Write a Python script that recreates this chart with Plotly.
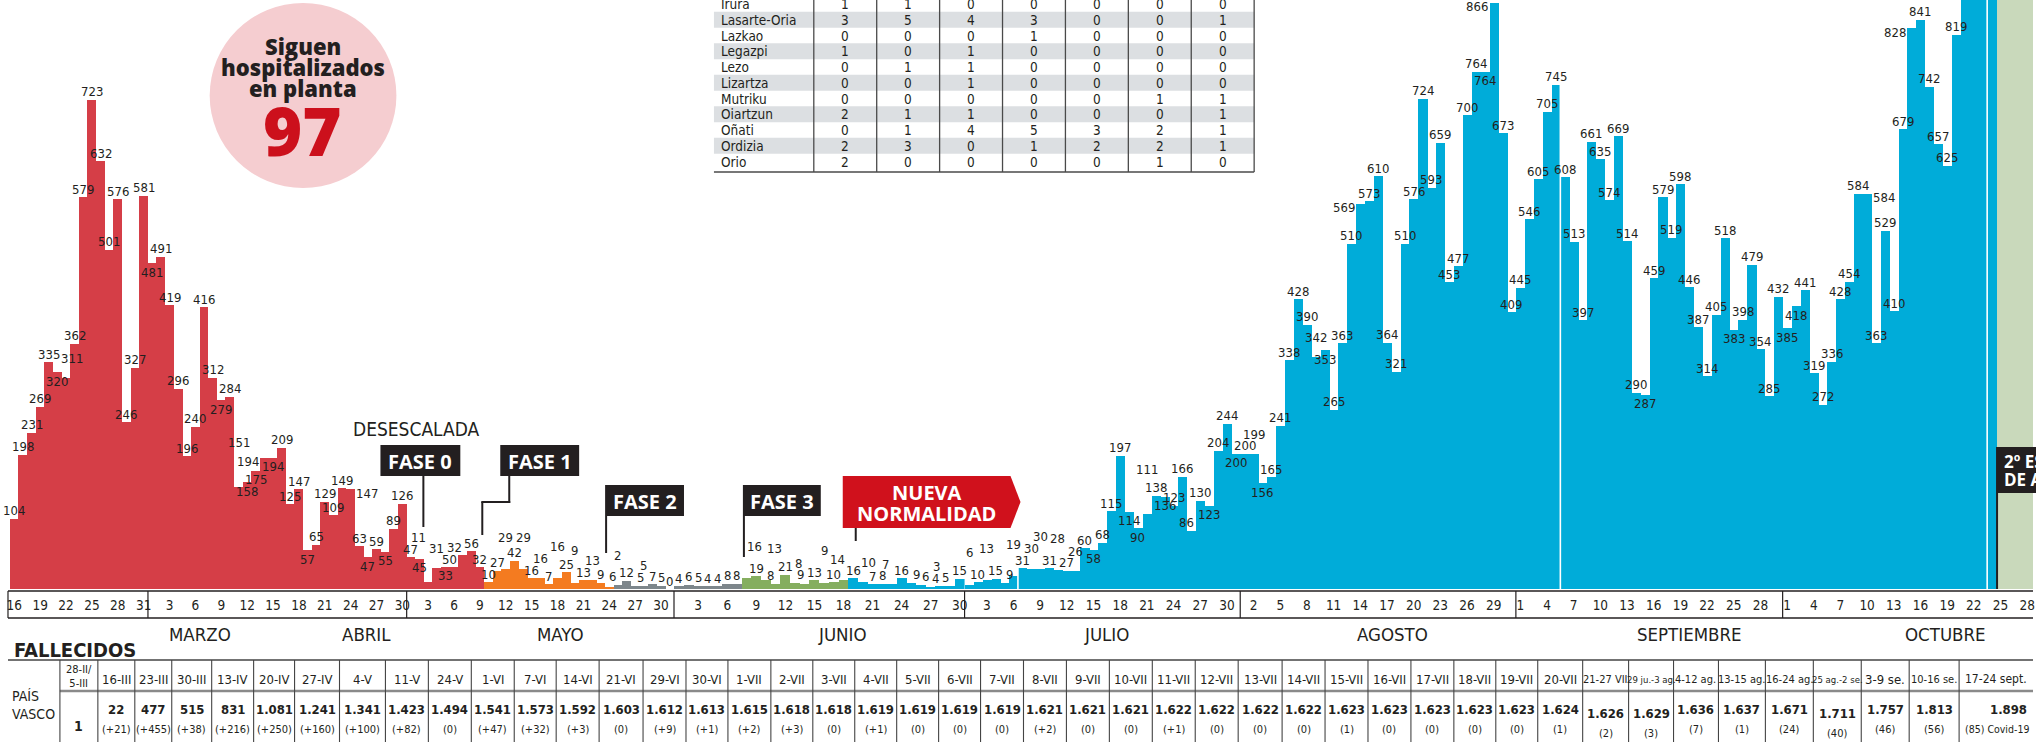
import plotly.graph_objects as go
import pandas as pd

# ============================ DATA ============================
inicio = "2020-03-16"
marzo = [104, 198, 231, 269, 335, 320, 311, 362, 579, 723, 632, 501, 576, 246, 327, 581]
abril = [481, 491, 419, 296, 196, 240, 416, 312, 279, 284, 151, 158, 175, 194, 194, 209, 125, 147, 57, 65,
         129, 109, 149, 147, 63, 47, 59, 55, 89, 126]
mayo = [47, 45, 11, 31, 33, 32, 50, 56, 32, 10, 27, 29, 42, 29, 16, 16, 7, 16, 25, 9,
        13, 13, 9, 2, 6, 12, 5, 5, 7, 5, 0]
junio = [4, 6, 5, 4, 4, 8, 8, 16, 19, 13, 8, 21, 9, 8, 13, 9, 10, 14, 16, 10,
         7, 8, 7, 16, 9, 6, 3, 4, 5, 15]
julio = [6, 10, 13, 15, 9, 19, 31, 30, 30, 31, 28, 27, 26, 60, 58, 68, 115, 197, 114, 90,
         111, 138, 136, 123, 166, 86, 130, 123, 204, 244, 200]
agosto = [200, 199, 156, 165, 241, 338, 428, 390, 342, 353, 265, 363, 510, 569, 573, 610, 364, 321, 510, 576,
          724, 593, 659, 453, 477, 700, 764, 764, 866, 673, 409]
septiembre = [445, 546, 605, 705, 745, 608, 513, 397, 661, 635, 574, 669, 514, 290, 287, 459, 579, 519, 598, 446,
              387, 314, 405, 518, 383, 398, 479, 354, 285, 432]
octubre = [385, 418, 441, 319, 272, 336, 428, 454, 584, 584, 363, 529, 410, 679, 828, 841, 742, 657, 625, 819,
           955, 1030, 1010, 905]

fases_inicio = ["2020-03-16", "2020-05-10", "2020-05-25", "2020-06-08", "2020-06-19"]
fases_color = ["#d53e47", "#f47b20", "#7d868b", "#85ae5f", "#00acd9"]
alarma_inicio = "2020-10-25"
separadores = ["2020-07-06", "2020-09-05", "2020-10-23"]

tick_marzo = [16, 19, 22, 25, 28, 31]
tick_abril = [3, 6, 9, 12, 15, 18, 21, 24, 27, 30]
tick_mayo = [3, 6, 9, 12, 15, 18, 21, 24, 27, 30]
tick_junio = [3, 6, 9, 12, 15, 18, 21, 24, 27, 30]
tick_julio = [3, 6, 9, 12, 15, 18, 21, 24, 27, 30]
tick_agosto = [2, 5, 8, 11, 14, 17, 20, 23, 26, 29]
tick_septiembre = [1, 4, 7, 10, 13, 16, 19, 22, 25, 28]
tick_octubre = [1, 4, 7, 10, 13, 16, 19, 22, 25, 28]
meses = ["MARZO", "ABRIL", "MAYO", "JUNIO", "JULIO", "AGOSTO", "SEPTIEMBRE", "OCTUBRE"]

municipios = ["Irura", "Lasarte-Oria", "Lazkao", "Legazpi", "Lezo", "Lizartza", "Mutriku",
              "Oiartzun", "Oñati", "Ordizia", "Orio"]
municipios_valores = [[1, 1, 0, 0, 0, 0, 0], [3, 5, 4, 3, 0, 0, 1], [0, 0, 0, 1, 0, 0, 0],
                      [1, 0, 1, 0, 0, 0, 0], [0, 1, 1, 0, 0, 0, 0], [0, 0, 1, 0, 0, 0, 0],
                      [0, 0, 0, 0, 0, 1, 1], [2, 1, 1, 0, 0, 0, 1], [0, 1, 4, 5, 3, 2, 1],
                      [2, 3, 0, 1, 2, 2, 1], [2, 0, 0, 0, 0, 1, 0]]

fall_primero = ["28-II/<br>5-III", "1"]
fall_periodo = ["16-III", "23-III", "30-III", "13-IV", "20-IV", "27-IV", "4-V", "11-V", "24-V", "1-VI",
                "7-VI", "14-VI", "21-VI", "29-VI", "30-VI", "1-VII", "2-VII", "3-VII", "4-VII", "5-VII",
                "6-VII", "7-VII", "8-VII", "9-VII", "10-VII", "11-VII", "12-VII", "13-VII", "14-VII", "15-VII",
                "16-VII", "17-VII", "18-VII", "19-VII", "20-VII", "21-27 VII", "29 ju.-3 ag.", "4-12 ag.",
                "13-15 ag.", "16-24 ag.", "25 ag.-2 se.", "3-9 se.", "10-16 se.", "17-24 sept."]
fall_total = ["22", "477", "515", "831", "1.081", "1.241", "1.341", "1.423", "1.494", "1.541",
              "1.573", "1.592", "1.603", "1.612", "1.613", "1.615", "1.618", "1.618", "1.619", "1.619",
              "1.619", "1.619", "1.621", "1.621", "1.621", "1.622", "1.622", "1.622", "1.622", "1.623",
              "1.623", "1.623", "1.623", "1.623", "1.624", "1.626", "1.629", "1.636", "1.637", "1.671",
              "1.711", "1.757", "1.813", "1.898"]
fall_dif = ["(+21)", "(+455)", "(+38)", "(+216)", "(+250)", "(+160)", "(+100)", "(+82)", "(0)", "(+47)",
            "(+32)", "(+3)", "(0)", "(+9)", "(+1)", "(+2)", "(+3)", "(0)", "(+1)", "(0)",
            "(0)", "(0)", "(+2)", "(0)", "(0)", "(+1)", "(0)", "(0)", "(0)", "(1)",
            "(0)", "(0)", "(0)", "(0)", "(1)", "(2)", "(3)", "(7)", "(1)", "(24)",
            "(40)", "(46)", "(56)", "(85) Covid-19"]

# ============================ LAYOUT / STYLE ============================
W, H = 2036, 742
BASE = 589            # pixel row of bar baseline
YMAX = 870
INK = "#231f20"
NARROW = "DejaVu Sans Condensed, Liberation Sans Narrow, sans-serif"
BOLDF = "Open Sans, Lato, sans-serif"

# the printed time axis is drawn in three stretches with slightly different day widths
seg_fechas = [("2020-03-16", "2020-05-31"), ("2020-06-01", "2020-06-30"), ("2020-07-01", "2020-10-24")]
seg_px = [(10, 675), (675, 966), (966, 1999)]
seg_ax = ["x", "x2", "x3"]


def PX(p):
    return p / W


def PY(p):
    return 1 - p / H


DAY = pd.Timedelta(days=1)
segs = []
for (a, b), (p0, p1) in zip(seg_fechas, seg_px):
    a, b = pd.Timestamp(a), pd.Timestamp(b)
    n = (b - a).days + 1
    segs.append((a, b, p0, p1, (p1 - p0) / n))


def seg_of(t):
    t = pd.Timestamp(t)
    for k, (a, b, p0, p1, s) in enumerate(segs):
        if t < b + DAY / 2:
            return k
    return len(segs) - 1


def pix(t):
    t = pd.Timestamp(t)
    a, b, p0, p1, s = segs[seg_of(t)]
    return p0 + ((t - a) / DAY + 0.5) * s


start = pd.Timestamp(inicio)
valores = marzo + abril + mayo + junio + julio + agosto + septiembre + octubre
fechas = pd.date_range(start, periods=len(valores), freq="D")

colores = []
for f in fechas:
    c = fases_color[0]
    for fi, col in zip(fases_inicio, fases_color):
        if f >= pd.Timestamp(fi):
            c = col
    colores.append(c)

tick_vals, tick_text = [], []
for mes, lst in zip(range(3, 11), [tick_marzo, tick_abril, tick_mayo, tick_junio, tick_julio,
                                   tick_agosto, tick_septiembre, tick_octubre]):
    for d in lst:
        tick_vals.append(pd.Timestamp(2020, mes, d))
        tick_text.append(str(d))

fig = go.Figure()
layout_axes = {}
for k, (a, b, p0, p1, s) in enumerate(segs):
    idx = [i for i, f in enumerate(fechas) if seg_of(f) == k]
    fig.add_trace(go.Bar(x=[fechas[i] for i in idx], y=[valores[i] for i in idx],
                         width=86400000 * 1.03, xaxis=seg_ax[k], yaxis="y",
                         marker=dict(color=[colores[i] for i in idx], line=dict(width=0)),
                         hoverinfo="skip", showlegend=False))
    d0 = 0 if k == 0 else p0
    d1 = W if k == len(segs) - 1 else p1
    r0 = a - DAY / 2 - DAY * ((p0 - d0) / s)
    r1 = a - DAY / 2 + DAY * ((d1 - p0) / s)
    tv = [t for t in tick_vals if r0 <= t <= r1]
    tt = [tick_text[j] for j, t in enumerate(tick_vals) if r0 <= t <= r1]
    name = "xaxis" if k == 0 else "xaxis%d" % (k + 1)
    layout_axes[name] = dict(type="date", range=[r0, r1], domain=[d0 / W, d1 / W], anchor="y",
                             showgrid=False, zeroline=False, showline=False, ticks="",
                             tickmode="array", tickvals=tv, ticktext=tt, tickangle=0,
                             tickfont=dict(family=NARROW, size=13.5, color=INK), ticklabelstandoff=6,
                             ticklabeloverflow="allow", fixedrange=True)

shapes, annots = [], []


def hline(y, x0, x1, color=INK, width=1.5):
    shapes.append(dict(type="line", xref="paper", yref="paper", x0=PX(x0), x1=PX(x1), y0=PY(y), y1=PY(y),
                       line=dict(color=color, width=width)))


def vline(x, y0, y1, color=INK, width=1.5):
    shapes.append(dict(type="line", xref="paper", yref="paper", x0=PX(x), x1=PX(x), y0=PY(y0), y1=PY(y1),
                       line=dict(color=color, width=width)))


def rect(x0, y0, x1, y1, color, layer="above"):
    shapes.append(dict(type="rect", xref="paper", yref="paper", x0=PX(x0), x1=PX(x1), y0=PY(y1), y1=PY(y0),
                       fillcolor=color, line=dict(width=0), layer=layer))


def text(x, y, t, size, color=INK, family=NARROW, weight="normal", xanchor="center"):
    annots.append(dict(xref="paper", yref="paper", x=PX(x), y=PY(y), text=t, showarrow=False,
                       xanchor=xanchor, yanchor="middle",
                       font=dict(family=family, size=size, color=color, weight=weight)))


# green background (2nd state of alarm)
shapes.append(dict(type="rect", xref="x3", yref="y", x0=pd.Timestamp(alarma_inicio) - DAY / 2,
                   x1=pd.Timestamp("2020-11-15"), y0=0, y1=YMAX, fillcolor="#c9d9bb",
                   line=dict(width=0), layer="below"))

for s_ in separadores:
    t = pd.Timestamp(s_)
    i = (t - start).days
    top = min(max(valores[i], valores[i + 1]), YMAX)
    shapes.append(dict(type="line", xref=seg_ax[seg_of(t)], yref="y", x0=t + DAY / 2,
                       x1=t + DAY / 2, y0=0, y1=top, line=dict(color="white", width=1.6)))

# ---------- axis row ----------
hline(591, 8, W, INK, 1.6)
hline(618, 8, W, INK, 1.6)
vline(8, 591, 618, INK, 1.2)
for mb in ["2020-03-31", "2020-04-30", "2020-05-31", "2020-06-30", "2020-07-31", "2020-08-31", "2020-09-30"]:
    vline(pix(pd.Timestamp(mb) + DAY / 2 - pd.Timedelta(minutes=1)), 591, 618, INK, 1.2)

mes_x = [200, 367, 561, 844, 1108, 1395, 1692, 1948]
for m, x in zip(meses, mes_x):
    text(x, 634, m, 18.5)

# ---------- pink circle ----------
shapes.append(dict(type="circle", xref="paper", yref="paper", x0=PX(210), x1=PX(397), y0=PY(188), y1=PY(3),
                   fillcolor="#f5cdd0", line=dict(width=0), layer="above"))
text(303, 46, "Siguen", 22, INK, BOLDF, 800)
text(303, 67, "hospitalizados", 22, INK, BOLDF, 800)
text(303, 88, "en planta", 22, INK, BOLDF, 800)
text(303, 130, "97", 67, "#cc101c", BOLDF, 800)

# ---------- phases ----------
text(417, 429, "DESESCALADA", 19)
fase_boxes = [("FASE 0", 381, 445, 461, 476), ("FASE 1", 501, 445, 580, 476),
              ("FASE 2", 606, 485, 685, 516), ("FASE 3", 744, 485, 822, 516)]
for t, x0, y0, x1, y1 in fase_boxes:
    rect(x0, y0, x1, y1, INK)
    text((x0 + x1) / 2, (y0 + y1) / 2 + 1, t, 20, "white", BOLDF, "bold")
vline(424, 476, 527, INK, 2)
vline(510, 476, 503, INK, 2)
hline(502, 482, 511, INK, 2)
vline(483, 502, 535, INK, 2)
vline(607, 516, 553, INK, 2)
vline(745, 516, 557, INK, 2)
vline(857, 528, 541, INK, 2)

path = "M {} {} L {} {} L {} {} L {} {} L {} {} Z".format(
    PX(844), PY(476), PX(1012), PY(476), PX(1022), PY(502), PX(1012), PY(528), PX(844), PY(528))
shapes.append(dict(type="path", xref="paper", yref="paper", path=path, fillcolor="#d0111c",
                   line=dict(width=0), layer="above"))
text(928, 492, "NUEVA", 20, "white", BOLDF, "bold")
text(928, 513, "NORMALIDAD", 20, "white", BOLDF, "bold")

rect(1999, 447, 2040, 493, INK)
vline(2000, 493, 589, INK, 2)
text(2005, 461, "2º ESTADO", 17, "white", BOLDF, "bold", "left")
text(2005, 480, "DE ALARMA", 17, "white", BOLDF, "bold", "left")

# ---------- top table (municipios) ----------
T_L, T_R = 715, 1256
col_lines = [815, 878, 941, 1004, 1067, 1130, 1193, 1256]
row_c = [4 + 15.75 * i for i in range(len(municipios))]
for i, yc in enumerate(row_c):
    if i % 2 == 1:
        rect(T_L, yc - 7.9, T_R, yc + 7.9, "#dcdfe2", "below")
for x in col_lines:
    vline(x, 0, 172, "#4a4a4a", 1.3)
hline(172, T_L, T_R, "#4a4a4a", 1.6)
for name, vals, yc in zip(municipios, municipios_valores, row_c):
    text(720, yc, name, 13.5, INK, NARROW, "normal", "left")
    for k, v in enumerate(vals):
        text((col_lines[k] + col_lines[k + 1]) / 2, yc, str(v), 13.5)

# ---------- fallecidos table ----------
text(12, 650, "FALLECIDOS", 20, INK, NARROW, "bold", "left")
hline(660, 8, W, "#444444", 1.6)
hline(691, 60, W, "#8a8a8a", 2.5)
text(10, 696, "PAÍS", 14, INK, NARROW, "normal", "left")
text(10, 714, "VASCO", 14, INK, NARROW, "normal", "left")
bounds = [60, 98, 135, 172, 212, 254, 295, 340, 386, 429, 472, 515, 557, 600, 644, 687, 729, 772, 814, 856,
          898, 940, 982, 1025, 1068, 1111, 1154, 1197, 1240, 1284, 1327, 1370, 1413, 1456, 1498, 1540, 1585,
          1631, 1676, 1721, 1768, 1816, 1864, 1912, 1962, 2060]
for b in bounds[:-1]:
    vline(b, 660, 742, "#444444", 1.1)
c0 = (bounds[0] + bounds[1]) / 2
text(c0, 676, fall_primero[0], 11)
text(c0, 726, fall_primero[1], 14, INK, NARROW, "bold")
low_cols = {"21-27 VII", "29 ju.-3 ag.", "25 ag.-2 se."}
for k, (p, tot, dif) in enumerate(zip(fall_periodo, fall_total, fall_dif)):
    cx = (bounds[k + 1] + bounds[k + 2]) / 2
    off = 4 if p in low_cols else 0
    fs = 13 if len(p) <= 7 else (11 if len(p) <= 9 else 9.5)
    if k == len(fall_periodo) - 1:
        text(1966, 679, p, 12, INK, NARROW, "normal", "left")
        text(2011, 709, tot, 13, INK, NARROW, "bold")
        text(1966, 729, dif, 10.5, INK, NARROW, "normal", "left")
        continue
    text(cx, 679, p, fs)
    text(cx, 709 + off, tot, 13, INK, NARROW, "bold")
    text(cx, 729 + off, dif, 11)

# ---------- bar value labels (greedy placement) ----------
def py_val(v):
    return BASE - min(v, YMAX) * BASE / YMAX


bar_px = [pix(f) for f in fechas]
bar_w = [segs[seg_of(f)][4] for f in fechas]

placed = [(210, 0, 397, 188), (715, 0, 1256, 174), (354, 420, 480, 438),
          (381, 445, 461, 476), (501, 445, 580, 476), (606, 485, 685, 516), (744, 485, 822, 516),
          (844, 476, 1022, 528), (422, 476, 426, 527), (508, 476, 512, 504), (481, 500, 512, 504),
          (481, 502, 485, 535), (605, 516, 609, 553), (743, 516, 747, 557), (855, 528, 859, 541)]


def hits(b):
    for p in placed:
        if b[0] < p[2] and b[2] > p[0] and b[1] < p[3] and b[3] > p[1]:
            return True
    return False


def clear_of_bars(b, own):
    for j, v in enumerate(valores):
        if j == own:
            continue
        left = bar_px[j] - bar_w[j] / 2
        right = left + bar_w[j]
        if right > b[0] and left < b[2] and py_val(v) < b[3]:
            return False
    return True


LH = 11
DIG = 7.3
order = sorted(range(len(valores)), key=lambda i: -valores[i])
for i in order:
    v = valores[i]
    if v > YMAX:
        continue
    bx, by = bar_px[i], py_val(v)
    w = DIG * len(str(v)) + 1
    cands = [(0, -8, 0), (-5, -8, 0), (5, -8, 0), (-(w / 2 + 5), 4, 1), (w / 2 + 5, 4, 1),
             (0, 9, 2), (0, -20, 0), (-6, -20, 0), (6, -20, 0), (0, -32, 0), (-8, -32, 0), (8, -32, 0),
             (0, -44, 0), (-10, -44, 0), (10, -44, 0)]
    chosen = None
    for dx, dy, kind in cands:
        cx, cy = bx + dx, by + dy
        b = (cx - w / 2, cy - LH / 2, cx + w / 2, cy + LH / 2)
        if b[1] < 0 or b[3] > BASE - 1 or b[0] < 0 or b[2] > W:
            continue
        if kind == 2 and (BASE - by) < 21:
            continue
        if kind == 1 and not clear_of_bars(b, i):
            continue
        if hits(b):
            continue
        chosen = (dx, dy, b)
        break
    if chosen is None:
        chosen = (0, -8, (bx - w / 2, by - 13.5, bx + w / 2, by - 2.5))
    dx, dy, b = chosen
    placed.append(b)
    annots.append(dict(xref=seg_ax[seg_of(fechas[i])], yref="y", x=fechas[i], y=v, text=str(v),
                       showarrow=False, xshift=dx, yshift=-dy, xanchor="center", yanchor="middle",
                       font=dict(family=NARROW, size=13, color=INK)))

fig.update_layout(
    width=W, height=H, autosize=False,
    margin=dict(l=0, r=0, t=0, b=0, pad=0),
    paper_bgcolor="white", plot_bgcolor="white",
    bargap=0, showlegend=False,
    yaxis=dict(range=[0, YMAX], domain=[1 - BASE / H, 1], visible=False, fixedrange=True, anchor="x"),
    shapes=shapes, annotations=annots,
    **layout_axes,
)

fig.write_html("out.html", config={"displayModeBar": False},
               post_script="document.body.style.margin='0';document.body.style.overflow='hidden';")
